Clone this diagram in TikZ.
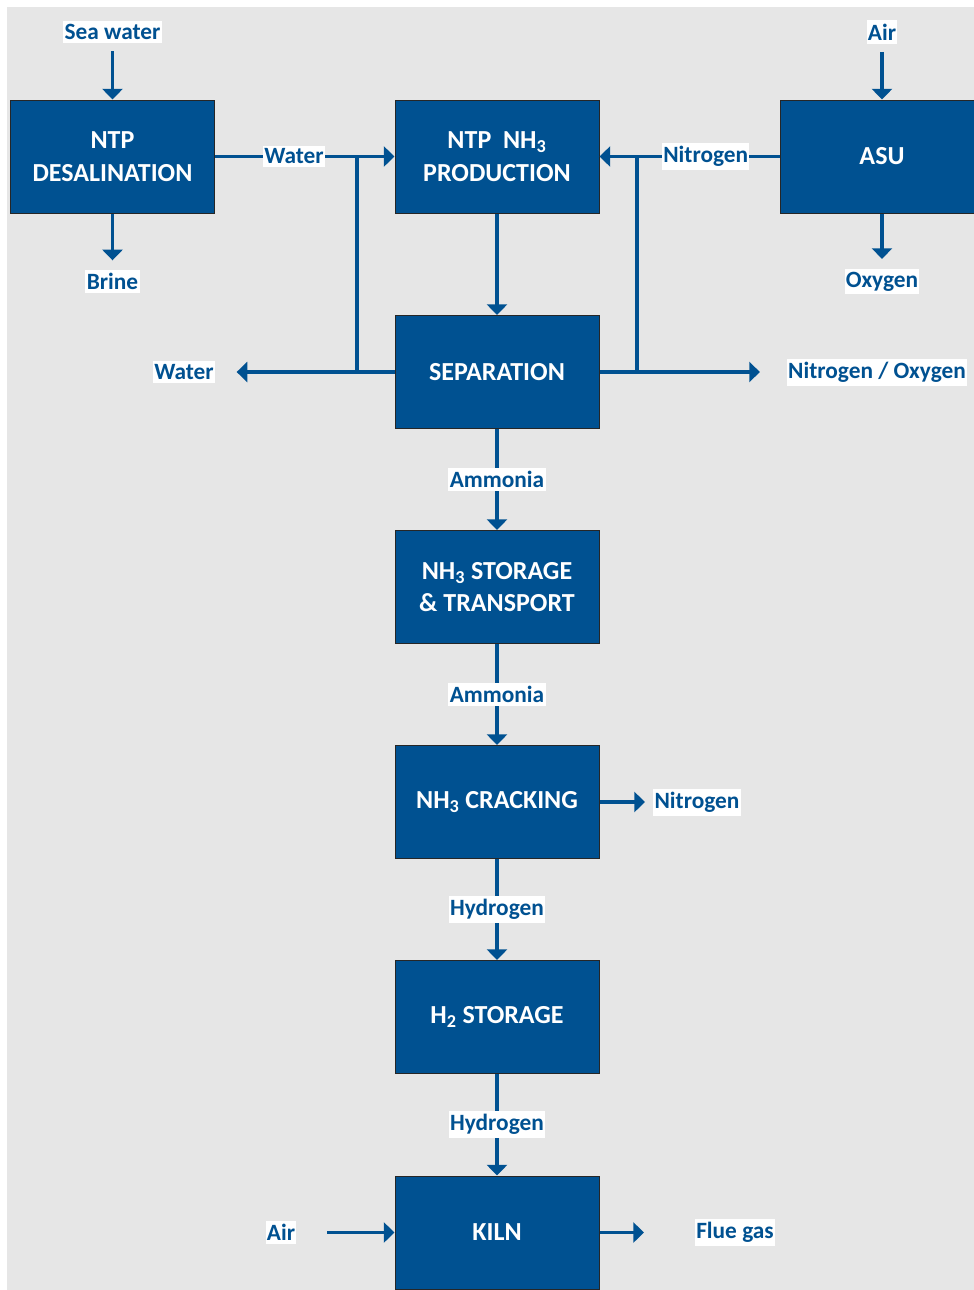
\documentclass[tikz,border=0pt]{standalone}
\usepackage{fontspec}
\setmainfont{Carlito}
\usetikzlibrary{arrows.meta}
\definecolor{unitblue}{RGB}{0,81,145}
\definecolor{sheetgrey}{RGB}{230,230,230}

\begin{document}
\begin{tikzpicture}[x=0.75pt,y=0.75pt,yscale=-1,xscale=1,
  unit/.style={draw=black!85, line width=0.75pt, fill=unitblue, text=white,
    font=\fontsize{19.5}{24.5}\selectfont\bfseries, align=center,
    minimum width=153pt, minimum height=84.75pt, inner sep=0pt},
  stream/.style={fill=white, text=unitblue, font=\fontsize{17.5}{21}\selectfont\bfseries,
    inner xsep=1pt, inner ysep=2.5pt},
  pipe/.style={draw=unitblue, line width=2.6pt},
  flow/.style={pipe, -{Triangle[length=8pt,width=15pt]}}]
\useasboundingbox (0,0) rectangle (974,1290);

%Shape: Rectangle (sheet)
\fill[sheetgrey] (7,7) rectangle (974,1290);

%Shape: Rectangle (process units)
\node[unit] (desal) at (112.5,156.5) {NTP\\DESALINATION};
\node[unit] (prod) at (497,156.5) {NTP\ \ NH\textsubscript{3}\\PRODUCTION};
\node[unit] (asu) at (882,156.5) {ASU};
\node[unit] (sep) at (497,372) {SEPARATION};
\node[unit] (store) at (497,587) {NH\textsubscript{3} STORAGE\\\& TRANSPORT};
\node[unit] (crack) at (497,802) {NH\textsubscript{3} CRACKING};
\node[unit] (hstore) at (497,1017) {H\textsubscript{2} STORAGE};
\node[unit] (kiln) at (497,1232.5) {KILN};

% Text Node (inputs and outputs)
\node[stream] (seawater) at (112.5,32) {Sea water};
\node[stream] (brine) at (112.5,281.5) {Brine};
\node[stream] (airtop) at (882,32) {Air};
\node[stream] (oxygen) at (882,281.5) {Oxygen};
\node[stream] (waterout) at (184,372) {Water};
\node[stream] (nox) at (877,372) {Nitrogen / Oxygen};
\node[stream] (crackn) at (697,802) {Nitrogen};
\node[stream] (airkiln) at (281,1232.5) {Air};
\node[stream] (flue) at (735,1232.5) {Flue gas};

% junctions of the recycle lines
\coordinate (wj) at (357,156.5);
\coordinate (nj) at (637,156.5);

%Straight Lines
\draw[flow, shorten <=6pt] (seawater) -- (desal);
\draw[flow, shorten >=7pt] (desal) -- (brine);
\draw[flow, shorten <=6pt] (airtop) -- (asu);
\draw[flow, shorten >=7pt] (asu) -- (oxygen);
\draw[pipe] (wj) -- (wj |- sep.west);
\draw[pipe] (nj) -- (nj |- sep.east);
\draw[flow] (desal) -- (prod) node[stream, pos=0.44] (water) {Water};
\draw[flow] (asu) -- (prod) node[stream, pos=0.41] (nitrogen) {Nitrogen};
\draw[flow, shorten >=16pt] (sep) -- (waterout);
\draw[flow, shorten >=20pt] (sep) -- (nox);
\draw[flow] (prod) -- (sep);
\draw[flow] (sep) -- (store) node[stream, midway] (amm1) {Ammonia};
\draw[flow] (store) -- (crack) node[stream, midway] (amm2) {Ammonia};
\draw[flow, shorten >=6pt] (crack) -- (crackn);
\draw[flow] (crack) -- (hstore) node[stream, midway] (hyd1) {Hydrogen};
\draw[flow] (hstore) -- (kiln) node[stream, midway] (hyd2) {Hydrogen};
\draw[flow, shorten <=23pt] (airkiln) -- (kiln);
\draw[flow, shorten >=38pt] (kiln) -- (flue);

\end{tikzpicture}
\end{document}
